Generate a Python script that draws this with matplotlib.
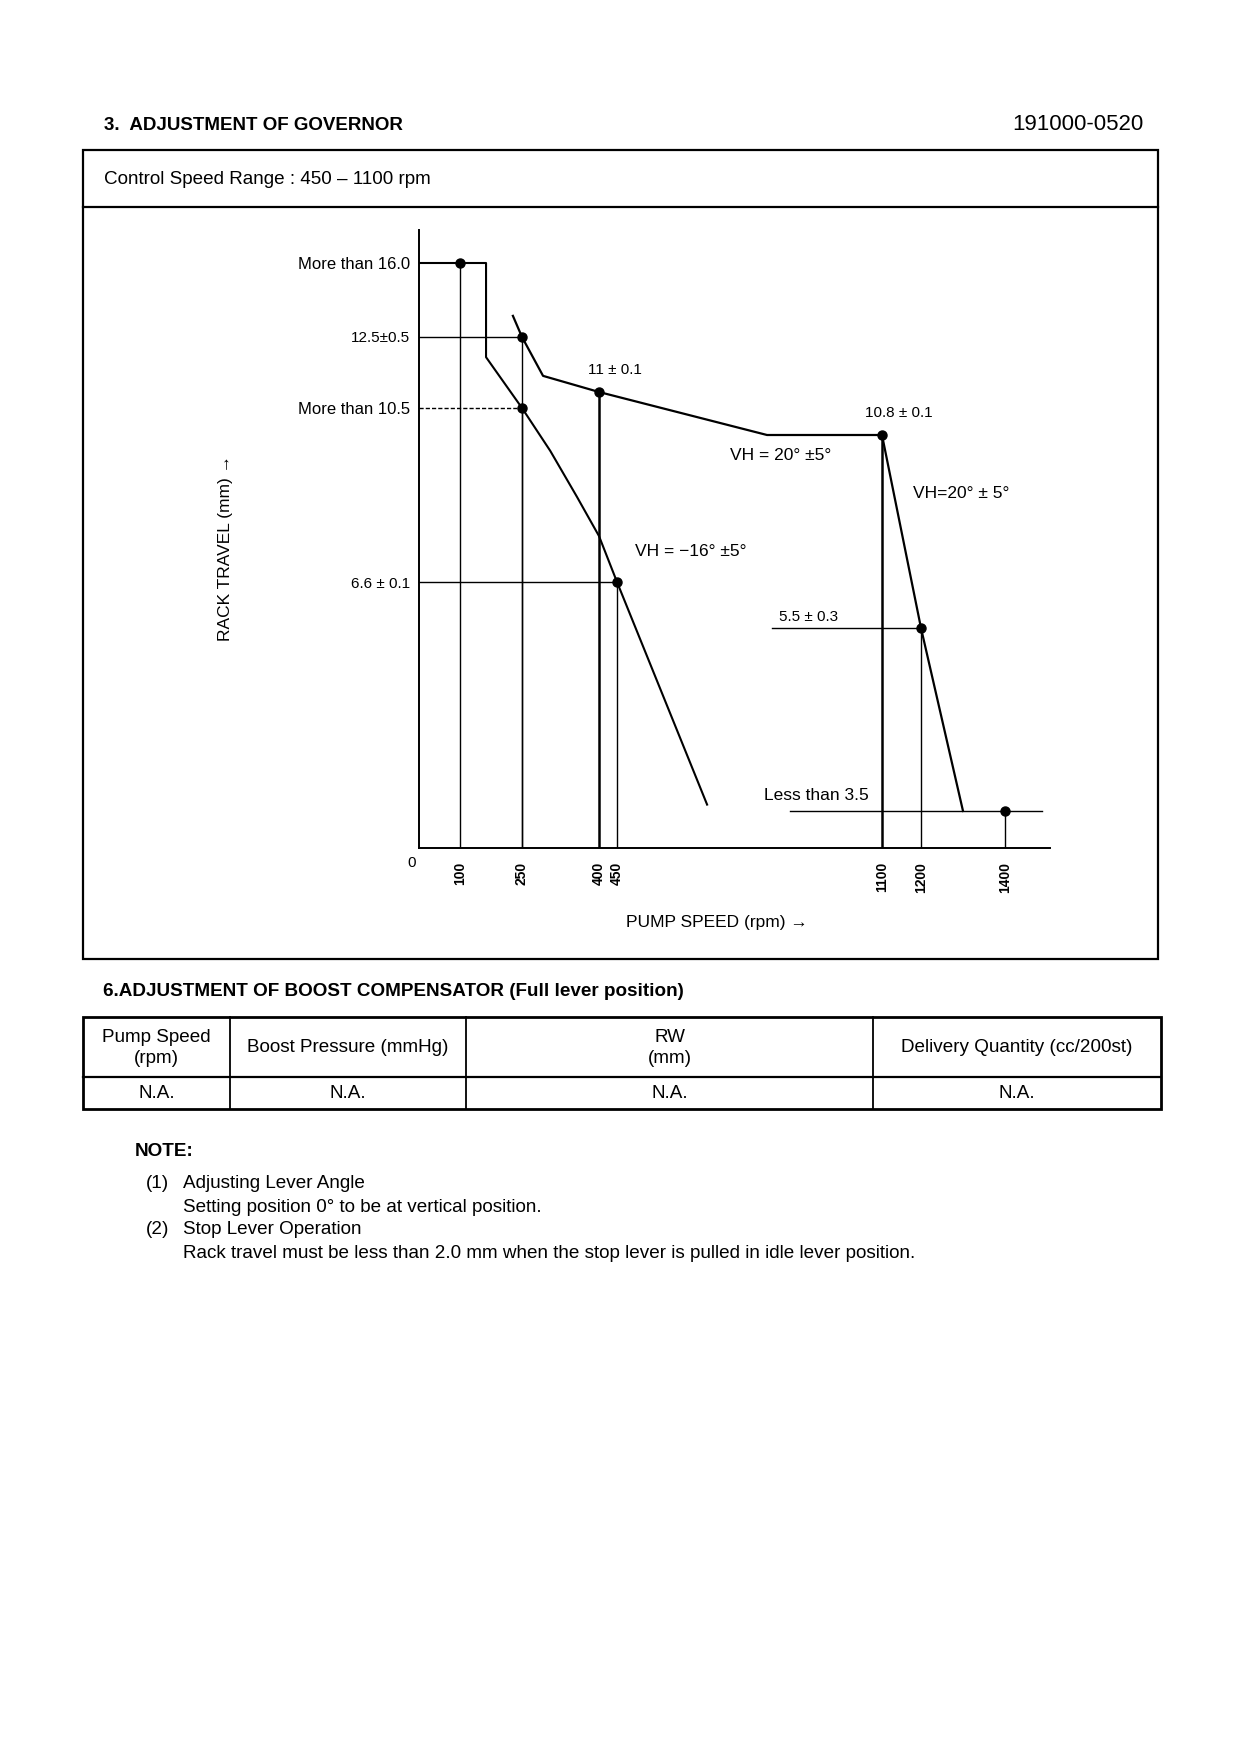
import numpy as np
import matplotlib
matplotlib.use("Agg")
import matplotlib.pyplot as plt
from matplotlib import font_manager as fm
from matplotlib.patches import Rectangle

names = {f.name for f in fm.fontManager.ttflist}
body_font = "Liberation Sans" if "Liberation Sans" in names else "DejaVu Sans"
plt.rcParams["font.family"] = [body_font, "DejaVu Sans"]

# ---- governor diagram data (pump speed rpm, rack travel mm)
start_rpm = [0, 163, 163, 250, 305, 357, 400, 450, 671]
start_rack = [16.0, 16.0, 11.95, 10.5, 9.54, 8.51, 7.63, 6.6, 3.57]

full_rpm = [228, 250, 291, 400, 818, 1100, 1200, 1300]
full_rack = [13.5, 12.5, 11.44, 11.0, 10.8, 10.8, 5.5, 3.5]

point_rpm = [100, 250, 250, 400, 450, 1100, 1200, 1400]
point_rack = [16.0, 12.5, 10.5, 11.0, 6.6, 10.8, 5.5, 3.5]

guide_rack = [12.5, 10.5, 6.6, 5.5, 3.5]
guide_from = [0, 0, 0, 830, 874]
guide_to = [250, 250, 450, 1200, 1483]

ytick_vals = [16.0, 12.5, 10.5, 6.6]
ytick_labels = ["More than 16.0", "12.5±0.5", "More than 10.5", "6.6 ± 0.1"]
xtick_vals = [100, 250, 400, 450, 1100, 1200, 1400]

note_texts = ["11 ± 0.1", "10.8 ± 0.1", "VH = 20° ±5°", "VH=20° ± 5°",
              "VH = −16° ±5°", "5.5 ± 0.3", "Less than 3.5"]
note_rpm = [400, 1100, 1100, 1100, 450, 1200, 1400]
note_rack = [11.0, 10.8, 10.8, 10.8, 6.6, 5.5, 3.5]

# ---- boost compensator table
table_headers = ["Pump Speed\n(rpm)", "Boost Pressure (mmHg)", "RW\n(mm)",
                 "Delivery Quantity (cc/200st)"]
table_values = ["N.A.", "N.A.", "N.A.", "N.A."]

notes = [("(1)", "Adjusting Lever Angle"),
         ("", "Setting position 0° to be at vertical position."),
         ("(2)", "Stop Lever Operation"),
         ("", "Rack travel must be less than 2.0 mm when the stop lever is pulled in idle lever position.")]

# the sketch is not drawn to scale (10.8 even sits below 10.5),
# so both axes use piecewise scales
x_knots = [0, 100, 250, 400, 450, 1100, 1200, 1400, 1500]
x_pos = [0, 41, 103, 180, 198, 463, 502, 586, 631]
y_knots = [0, 3.5, 5.5, 6.6, 10.5, 10.8, 11.0, 12.5, 16.0, 17.5]
y_pos = [0, 37, 220, 266, 440, 413, 456, 511, 585, 618]
y_mono = [i for i, v in enumerate(y_knots) if v != 10.8]

W, H = 1240, 1754
fig = plt.figure(figsize=(W / 100, H / 100), dpi=100)

# page layer in pixel units (boxes, headings, table)
page = fig.add_axes([0, 0, 1, 1], zorder=0)
page.set_xlim(0, W)
page.set_ylim(H, 0)
page.axis("off")

fs = 13.6
page.text(104, 125, "3.  ADJUSTMENT OF GOVERNOR", fontsize=13.5, fontweight="bold", va="center")
page.text(1144, 125, "191000-0520", fontsize=16, ha="right", va="center")
page.add_patch(Rectangle((83, 150), 1158 - 83, 959 - 150, fill=False, lw=1.6, ec="black"))
page.plot([83, 1158], [207, 207], color="black", lw=1.6)
page.text(104, 179, "Control Speed Range : 450 – 1100 rpm", fontsize=fs, va="center")

page.text(103, 992, "6.ADJUSTMENT OF BOOST COMPENSATOR (Full lever position)",
          fontsize=13.6, fontweight="bold", va="center")
col_edges = [83, 230, 466, 873, 1161]
page.add_patch(Rectangle((83, 1017), 1161 - 83, 1109 - 1017, fill=False, lw=2.0, ec="black"))
page.plot([83, 1161], [1077, 1077], color="black", lw=1.6)
for xe in col_edges[1:-1]:
    page.plot([xe, xe], [1017, 1109], color="black", lw=1.3)
for i in range(4):
    cx = (col_edges[i] + col_edges[i + 1]) / 2
    page.text(cx, 1048, table_headers[i], fontsize=fs, ha="center", va="center", linespacing=1.35)
    page.text(cx, 1093, table_values[i], fontsize=fs, ha="center", va="center")

page.text(135, 1152, "NOTE:", fontsize=fs, fontweight="bold", va="center")
for i, (num, txt) in enumerate(notes):
    yy = [1183, 1207, 1230, 1254][i]
    if num:
        page.text(146, yy, num, fontsize=fs, va="center")
    page.text(183, yy, txt, fontsize=fs, va="center")

# governor sketch axes
ax = fig.add_axes([419 / W, 1 - 848 / H, 631 / W, 618 / H], zorder=1)
ax.patch.set_alpha(0)
ax.set_xscale("function", functions=(lambda v: np.interp(v, x_knots, x_pos),
                                     lambda p: np.interp(p, x_pos, x_knots)))
ax.set_yscale("function", functions=(lambda v: np.interp(v, y_knots, y_pos),
                                     lambda p: np.interp(p, [y_pos[i] for i in y_mono],
                                                         [y_knots[i] for i in y_mono])))
ax.set_xlim(0, 1500)
ax.set_ylim(0, 17.5)

for s in ["top", "right"]:
    ax.spines[s].set_visible(False)
for s in ["left", "bottom"]:
    ax.spines[s].set_linewidth(1.4)

for r, a, b in zip(guide_rack, guide_from, guide_to):
    ls = (0, (3, 1.5)) if r == 10.5 else "-"
    ax.plot([a, b], [r, r], color="black", lw=1.0, ls=ls)
for xv, yv in zip(point_rpm, point_rack):
    lw = 1.8 if xv in (400, 1100) else 1.0
    ax.plot([xv, xv], [0, yv], color="black", lw=lw)

ax.plot(start_rpm, start_rack, color="black", lw=1.5)
ax.plot(full_rpm, full_rack, color="black", lw=1.6)
ax.plot(point_rpm, point_rack, "o", color="black", ms=6.5)

offsets = [(11.5, 16), (12, 16), (-73, -15), (57, -42), (53, 22), (-81, 8), (-136, 11)]
for t, xv, yv, off in zip(note_texts, note_rpm, note_rack, offsets):
    size = 11 if t[0].isdigit() else 12.5
    ax.annotate(t, (xv, yv), xytext=off, textcoords="offset points",
                ha="center", va="center", fontsize=size)

ax.set_yticks(ytick_vals)
ax.set_yticklabels(ytick_labels, fontsize=12)
for lab in ax.get_yticklabels():
    if lab.get_text()[0].isdigit():
        lab.set_fontsize(11)
ax.set_xticks(xtick_vals)
ax.set_xticklabels([str(v) for v in xtick_vals], rotation=90, fontsize=10, fontweight="bold")
ax.tick_params(axis="y", length=0, pad=6.5)
ax.tick_params(axis="x", length=0, pad=10)
ax.annotate("0", (0, 0), xytext=(-5, -11), textcoords="offset points",
            ha="center", va="center", fontsize=11)

ax.set_xlabel("PUMP SPEED (rpm) →", fontsize=12.5)
ax.xaxis.set_label_coords(0.472, -0.12)
ax.xaxis.label.set_va("center")
ax.set_ylabel("RACK TRAVEL (mm) →", fontsize=12.5)
ax.yaxis.set_label_coords(-0.307, 0.485)
ax.yaxis.label.set_va("center")

fig.savefig("out.png", dpi=100)
